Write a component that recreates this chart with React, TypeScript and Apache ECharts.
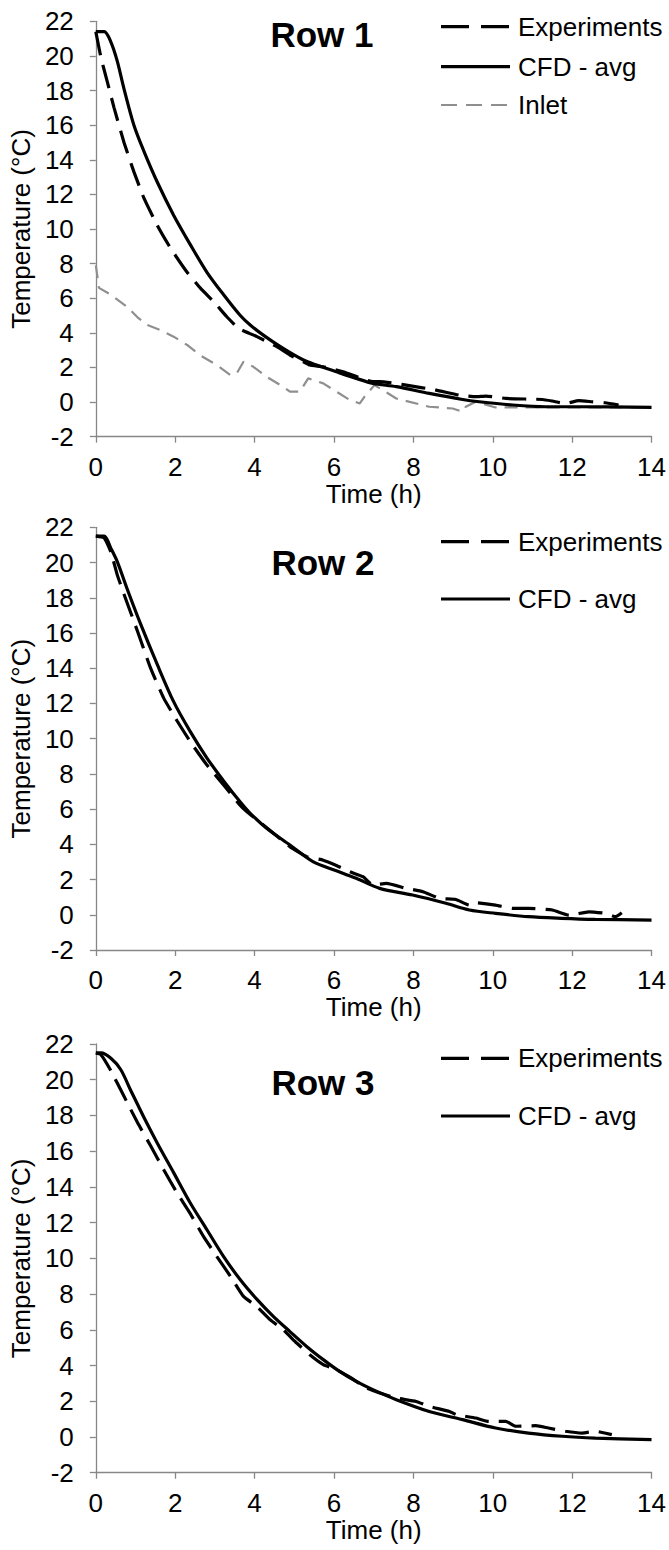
import React, { useEffect, useRef } from "react";
import * as echarts from "echarts";

// ---------- DATA ----------
const xTicks = [0, 2, 4, 6, 8, 10, 12, 14];
const yTicks = [-2, 0, 2, 4, 6, 8, 10, 12, 14, 16, 18, 20, 22];
const panelTitles = ["Row 1", "Row 2", "Row 3"];
const seriesNames = ["Experiments", "CFD - avg", "Inlet"];

// Row 1
const row1ExpTime = [0, 0.13, 0.29, 0.46, 0.71, 0.96, 1.21, 1.55, 1.88, 2.3, 2.63, 2.97, 3.3, 3.55, 3.68, 4.06, 4.56, 4.89, 5.23, 5.39, 5.73, 6.23, 6.98, 7.15, 7.82, 8.57, 9.16, 9.57, 9.83, 10.33, 11.25, 11.5, 11.83, 12.17, 12.5, 12.83, 13.17];
const row1ExpTemp = [21.4, 19.9, 18.5, 17.0, 15.0, 13.3, 11.8, 10.2, 8.9, 7.5, 6.6, 5.8, 4.93, 4.35, 4.16, 3.78, 3.2, 2.72, 2.33, 2.14, 2.04, 1.75, 1.18, 1.18, 0.98, 0.69, 0.4, 0.31, 0.35, 0.21, 0.15, 0.06, -0.08, 0.08, 0.02, -0.04, -0.17];
const row1CfdTime = [0, 0.21, 0.38, 0.54, 0.71, 0.96, 1.21, 1.55, 1.96, 2.38, 2.8, 3.22, 3.64, 3.89, 4.22, 4.72, 5.23, 5.56, 6.06, 6.56, 6.98, 7.57, 8.4, 9.24, 9.66, 10.5, 11.33, 12.17, 14];
const row1CfdTemp = [21.4, 21.4, 20.8, 19.7, 18.1, 16.0, 14.5, 12.7, 10.8, 9.1, 7.5, 6.2, 5.0, 4.45, 3.87, 3.1, 2.43, 2.14, 1.75, 1.37, 1.08, 0.89, 0.5, 0.15, 0.02, -0.17, -0.27, -0.27, -0.31];
const row1InletTime = [0, 0.08, 0.38, 0.79, 1.05, 1.3, 1.63, 1.96, 2.3, 2.63, 3.05, 3.39, 3.55, 3.72, 3.97, 4.3, 4.72, 4.89, 5.14, 5.35, 5.73, 6.06, 6.4, 6.65, 6.77, 7.02, 7.57, 8.4, 8.99, 9.24, 9.32, 9.57, 10.07, 14];
const row1InletTemp = [7.9, 6.6, 6.2, 5.5, 4.9, 4.45, 4.16, 3.78, 3.3, 2.7, 2.14, 1.56, 1.66, 2.33, 2.04, 1.46, 0.89, 0.6, 0.6, 1.37, 1.08, 0.6, 0.12, -0.08, 0.31, 0.98, 0.21, -0.27, -0.37, -0.56, -0.27, 0.02, -0.31, -0.31];

// Row 2
const row2ExpTime = [0, 0.21, 0.38, 0.54, 0.71, 1.05, 1.38, 1.71, 2.05, 2.38, 2.8, 3.22, 3.64, 3.8, 4.22, 4.89, 5.31, 5.73, 6.06, 6.4, 6.73, 6.98, 7.32, 7.82, 8.24, 8.66, 9.07, 9.41, 9.57, 10.07, 10.5, 10.9, 11.5, 11.92, 12.42, 12.84, 13.09, 13.25];
const row2ExpTemp = [21.5, 21.4, 20.6, 19.3, 18.2, 16.1, 14.0, 12.3, 11.0, 9.83, 8.5, 7.37, 6.2, 5.86, 5.1, 3.87, 3.3, 3.1, 2.8, 2.44, 2.16, 1.69, 1.78, 1.5, 1.31, 0.93, 0.87, 0.55, 0.68, 0.55, 0.36, 0.36, 0.27, -0.02, 0.17, 0.08, -0.11, 0.12];
const row2CfdTime = [0, 0.21, 0.38, 0.54, 0.79, 1.13, 1.55, 1.96, 2.38, 2.8, 3.22, 3.64, 3.89, 4.31, 4.89, 5.48, 6.06, 6.56, 7.15, 7.98, 8.82, 9.41, 10.07, 10.9, 11.73, 12.58, 14];
const row2CfdTemp = [21.5, 21.5, 20.8, 20.05, 18.5, 16.5, 14.2, 12.1, 10.4, 8.9, 7.6, 6.4, 5.76, 4.9, 3.96, 3.0, 2.5, 2.07, 1.5, 1.12, 0.65, 0.27, 0.08, -0.11, -0.2, -0.26, -0.3];

// Row 3
const row3ExpTime = [0, 0.13, 0.38, 0.71, 1.05, 1.38, 1.71, 2.05, 2.38, 2.72, 3.05, 3.39, 3.72, 4.06, 4.39, 4.72, 5.06, 5.39, 5.73, 6.06, 6.4, 6.81, 7.15, 7.57, 8.07, 8.4, 8.91, 9.08, 9.57, 9.9, 10.33, 10.58, 11.08, 11.4, 11.83, 12.25, 12.58, 13.0];
const row3ExpTemp = [21.5, 21.4, 20.5, 19.07, 17.6, 16.3, 14.96, 13.65, 12.5, 11.2, 10.1, 9.0, 7.87, 7.3, 6.57, 6.0, 5.26, 4.6, 4.05, 3.77, 3.35, 2.75, 2.46, 2.18, 1.99, 1.71, 1.43, 1.25, 1.06, 0.87, 0.87, 0.6, 0.63, 0.5, 0.32, 0.22, 0.32, 0.13];
const row3CfdTime = [0, 0.13, 0.38, 0.63, 0.88, 1.21, 1.55, 1.96, 2.38, 2.8, 3.22, 3.64, 4.06, 4.47, 4.89, 5.31, 5.73, 6.14, 6.56, 6.98, 7.57, 8.4, 9.24, 10.07, 10.9, 11.75, 12.58, 14];
const row3CfdTemp = [21.5, 21.5, 21.2, 20.56, 19.4, 17.9, 16.45, 14.8, 13.1, 11.6, 10.1, 8.8, 7.7, 6.75, 5.9, 5.07, 4.33, 3.67, 3.11, 2.65, 2.09, 1.43, 0.97, 0.5, 0.22, 0.04, -0.06, -0.15];

// ---------- LAYOUT / STYLE ----------
const W = 669;
const H = 1550;
const FONT = "'Liberation Sans', Arial, sans-serif";
const FS = 26;
const AXIS_GRAY = "#878787";
const INLET_GRAY = "#8f8f8f";
const gridLeft = 95;
const gridRight = 16;
const grids = [
  { top: 21.3, height: 415.4 },
  { top: 527.3, height: 422.7 },
  { top: 1044, height: 428.7 },
];
const titlePos = [
  { x: 322, y: 34.5 },
  { x: 323, y: 562.5 },
  { x: 323, y: 1082 },
];
const legendRows = [
  [26.7, 66.7, 105],
  [541.7, 599],
  [1058.3, 1116],
];

const zip = (a: number[], b: number[]) => a.map((v, i) => [v, b[i]]);

const expStyle = { color: "#000", width: 3.2, type: [24, 10] as any };
const cfdStyle = { color: "#000", width: 3.2, type: "solid" as any };
const inletStyle = { color: INLET_GRAY, width: 2.2, type: [13, 8] as any };

export default function App() {
  const ref = useRef<HTMLDivElement>(null);

  useEffect(() => {
    if (!ref.current) return;
    const chart = echarts.init(ref.current, undefined, { renderer: "svg", width: W, height: H });

    const xAxes = grids.map((_, i) => ({
      type: "value",
      gridIndex: i,
      min: xTicks[0],
      max: xTicks[xTicks.length - 1],
      interval: 2,
      name: "Time (h)",
      nameLocation: "middle",
      nameGap: 44,
      nameTextStyle: { fontFamily: FONT, fontSize: FS, color: "#000" },
      axisLine: { show: true, onZero: false, lineStyle: { color: AXIS_GRAY, width: 1.3 } },
      axisTick: { show: true, length: 6, inside: false, lineStyle: { color: AXIS_GRAY, width: 1.3 } },
      axisLabel: { fontFamily: FONT, fontSize: FS, color: "#000", margin: 17 },
      splitLine: { show: false },
    }));
    const yAxes = grids.map((_, i) => ({
      type: "value",
      gridIndex: i,
      min: yTicks[0],
      max: yTicks[yTicks.length - 1],
      interval: 2,
      name: "Temperature (°C)",
      nameLocation: "middle",
      nameGap: 58,
      nameRotate: 90,
      nameTextStyle: { fontFamily: FONT, fontSize: FS, color: "#000" },
      axisLine: { show: true, onZero: false, lineStyle: { color: AXIS_GRAY, width: 1.3 } },
      axisTick: { show: true, length: 6, inside: false, lineStyle: { color: AXIS_GRAY, width: 1.3 } },
      axisLabel: { fontFamily: FONT, fontSize: FS, color: "#000", margin: 22 },
      splitLine: { show: false },
    }));

    const mk = (name: string, idx: number, data: number[][], ls: any, z: number, smooth: any) => ({
      type: "line",
      name,
      xAxisIndex: idx,
      yAxisIndex: idx,
      data,
      showSymbol: false,
      symbol: "none",
      smooth,
      lineStyle: ls,
      z,
      silent: true,
    });

    const series = [
      mk(seriesNames[2], 0, zip(row1InletTime, row1InletTemp), { ...inletStyle }, 1, false),
      mk(seriesNames[1], 0, zip(row1CfdTime, row1CfdTemp), { ...cfdStyle }, 2, 0.3),
      mk(seriesNames[0], 0, zip(row1ExpTime, row1ExpTemp), { ...expStyle }, 3, 0.15),
      mk(seriesNames[1], 1, zip(row2CfdTime, row2CfdTemp), { ...cfdStyle }, 2, 0.3),
      mk(seriesNames[0], 1, zip(row2ExpTime, row2ExpTemp), { ...expStyle }, 3, 0.15),
      mk(seriesNames[1], 2, zip(row3CfdTime, row3CfdTemp), { ...cfdStyle }, 2, 0.3),
      mk(seriesNames[0], 2, zip(row3ExpTime, row3ExpTemp), { ...expStyle }, 3, 0.15),
    ];

    const graphics: any[] = [];
    panelTitles.forEach((t, i) => {
      graphics.push({
        type: "text",
        x: titlePos[i].x,
        y: titlePos[i].y,
        style: {
          text: t,
          fontFamily: FONT,
          fontSize: 35,
          fontWeight: "bold",
          fill: "#000",
          align: "center",
          verticalAlign: "middle",
        },
      });
    });
    const legendStyles = [
      { stroke: "#000", lineWidth: 3.2, lineDash: [28, 12] },
      { stroke: "#000", lineWidth: 3.2 },
      { stroke: INLET_GRAY, lineWidth: 2.2, lineDash: [16, 9] },
    ];
    legendRows.forEach((rows) => {
      rows.forEach((y, j) => {
        graphics.push({
          type: "line",
          shape: { x1: 441, y1: y, x2: 510, y2: y },
          style: { ...legendStyles[j], fill: null },
        });
        graphics.push({
          type: "text",
          x: 518,
          y: y,
          style: {
            text: seriesNames[j],
            fontFamily: FONT,
            fontSize: FS,
            fill: "#000",
            align: "left",
            verticalAlign: "middle",
          },
        });
      });
    });

    chart.setOption({
      animation: false,
      backgroundColor: "#fff",
      grid: grids.map((g) => ({ left: gridLeft, right: gridRight, top: g.top, height: g.height, containLabel: false })),
      xAxis: xAxes,
      yAxis: yAxes,
      series,
      graphic: graphics,
    } as any);

    return () => chart.dispose();
  }, []);

  return (
    <div
      ref={ref}
      style={{ position: "absolute", left: 0, top: 0, width: W, height: H, background: "#fff" }}
    />
  );
}
